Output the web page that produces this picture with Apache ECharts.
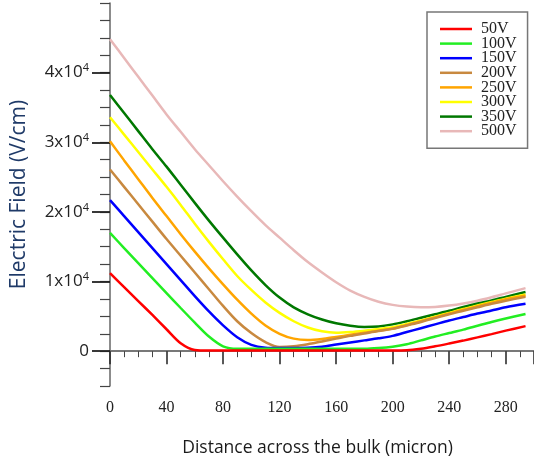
<!DOCTYPE html>
<html>
<head>
<meta charset="utf-8">
<script src="https://cdn.jsdelivr.net/npm/echarts@6/dist/echarts.min.js"></script>
<style>html,body{margin:0;padding:0;background:#fff}#c{width:534px;height:462px}</style>
</head>
<body>
<div id="c"></div>
<script>
// distance across the bulk (micron)
const xs = [0,10,20,30,40,50,60,70,80,90,100,110,120,130,140,150,160,170,180,190,200,210,220,230,240,250,260,270,280,294];
const v50  = [11200,9200,7200,5200,3150,1150,180,100,100,100,100,100,100,100,100,100,100,100,100,100,100,130,350,700,1100,1520,1980,2450,2950,3600];
const v100 = [17000,14800,12650,10500,8350,6200,4100,2100,700,350,350,350,350,350,350,350,350,350,350,450,650,1000,1550,2100,2600,3100,3650,4200,4700,5350];
const v150 = [21700,19400,17100,14800,12500,10200,7900,5700,3700,2000,900,500,450,450,500,650,950,1250,1550,1850,2200,2750,3300,3850,4400,4900,5400,5850,6300,6800];
const v200 = [26100,23600,21100,18600,16100,13700,11300,8900,6500,4300,2600,1300,600,700,1000,1400,1800,2200,2550,2900,3200,3700,4200,4750,5300,5800,6300,6800,7250,7800];
const v250 = [30140,27400,24700,22000,19400,16800,14300,11900,9600,7400,5400,3700,2500,1800,1600,1750,2050,2350,2650,2950,3250,3750,4300,4850,5400,5950,6450,6950,7450,8000];
const v300 = [33600,31100,28600,26100,23600,21000,18300,15700,13200,10800,8800,7000,5500,4300,3400,2850,2650,2750,2950,3200,3450,3900,4400,4950,5500,6050,6550,7050,7550,8150];
const v350 = [36800,34200,31600,29000,26500,23900,21300,18750,16300,13900,11600,9500,7700,6300,5300,4550,4000,3650,3480,3550,3850,4300,4800,5300,5800,6350,6850,7300,7800,8500];
const v500 = [44800,42100,39400,36700,34000,31500,29000,26700,24400,22200,20100,18100,16300,14500,12800,11300,9900,8700,7800,7100,6650,6400,6300,6350,6550,6850,7250,7750,8300,9050];

const seriesNames = ['50V','100V','150V','200V','250V','300V','350V','500V'];
const seriesValues = [v50, v100, v150, v200, v250, v300, v350, v500];
const seriesColors = ['#ff0000','#22ee22','#0000ff','#c8893f','#ffa500','#ffff00','#007800','#e8b8b8'];
const yMajorTicks = [0, 10000, 20000, 30000, 40000];

const pairs = vals => xs.map((x, i) => [x, vals[i]]);

const series = seriesNames.map((n, i) => ({
  name: n,
  type: 'line',
  data: pairs(seriesValues[i]),
  symbol: 'none',
  smooth: 0.3,
  lineStyle: { color: seriesColors[i], width: 2.5 },
  itemStyle: { color: seriesColors[i] },
  z: 10 - i
})).reverse();

const chart = echarts.init(document.getElementById('c'), null, { renderer: 'canvas' });
chart.setOption({
  animation: false,
  backgroundColor: '#fff',
  grid: { left: 110, right: -8.75, top: 3, bottom: 75, containLabel: false },
  legend: {
    data: seriesNames,
    orient: 'vertical',
    left: 427, top: 12,
    padding: [9, 11, 9, 13],
    itemGap: -1.4,
    itemWidth: 32, itemHeight: 2.5,
    icon: 'path://M0,0H32V2.5H0Z',
    backgroundColor: '#fff',
    borderColor: '#777', borderWidth: 1.5,
    textStyle: { fontFamily: 'Liberation Serif', fontSize: 16, color: '#222', padding: [3, 0, 0, 4] }
  },
  xAxis: [{
    type: 'value', min: 0, max: 300, interval: 40,
    position: 'bottom', offset: -3,
    name: 'Distance across the bulk (micron)',
    nameLocation: 'middle', nameGap: 56,
    nameTextStyle: { fontFamily: 'Open Sans', fontSize: 17.5, color: '#1a1a1a', padding: [0, 9, 0, 0] },
    axisLine: { show: true, lineStyle: { color: '#555', width: 1.5 } },
    axisTick: { show: true, inside: false, length: 13, lineStyle: { color: '#222', width: 1.5 } },
    minorTick: { show: true, splitNumber: 4, length: 6, lineStyle: { color: '#444', width: 1 } },
    axisLabel: { fontFamily: 'Liberation Serif', fontSize: 16, color: '#222', margin: 17, showMaxLabel: false },
    splitLine: { show: false }
  }, {
    type: 'value', min: 0, max: 300, position: 'top', offset: -2,
    axisLine: { show: true, lineStyle: { color: '#777', width: 1.5 } },
    axisTick: { show: false }, axisLabel: { show: false }, splitLine: { show: false }
  }],
  yAxis: [{
    type: 'value', min: -5000, max: 50000, interval: 2500,
    name: 'Electric Field (V/cm)',
    nameLocation: 'middle', nameGap: 80,
    nameTextStyle: { fontFamily: 'Open Sans', fontSize: 21, color: '#1f3a68' },
    axisLine: { show: true, lineStyle: { color: '#666', width: 1.5 } },
    axisTick: { show: true, inside: false, length: 10, lineStyle: { color: '#444', width: 1.2 } },
    axisLabel: {
      margin: 21, color: '#222', fontFamily: 'Open Sans', fontSize: 17,
      formatter: v => yMajorTicks.indexOf(v) < 0 ? '' : (v === 0 ? '0' : (v / 10000) + 'x10{sup|4}'),
      rich: { sup: { fontSize: 11, fontFamily: 'Open Sans', color: '#222', padding: [0, 0, 9, 0] } }
    },
    splitLine: { show: false }
  }, {
    type: 'value', min: -5000, max: 50000, interval: 2500, position: 'left',
    axisLine: { show: false },
    axisTick: { show: true, inside: false, length: 18, customValues: yMajorTicks, lineStyle: { color: '#222', width: 1.8 } },
    axisLabel: { show: false }, splitLine: { show: false }
  }],
  series: series
});
</script>
</body>
</html>
